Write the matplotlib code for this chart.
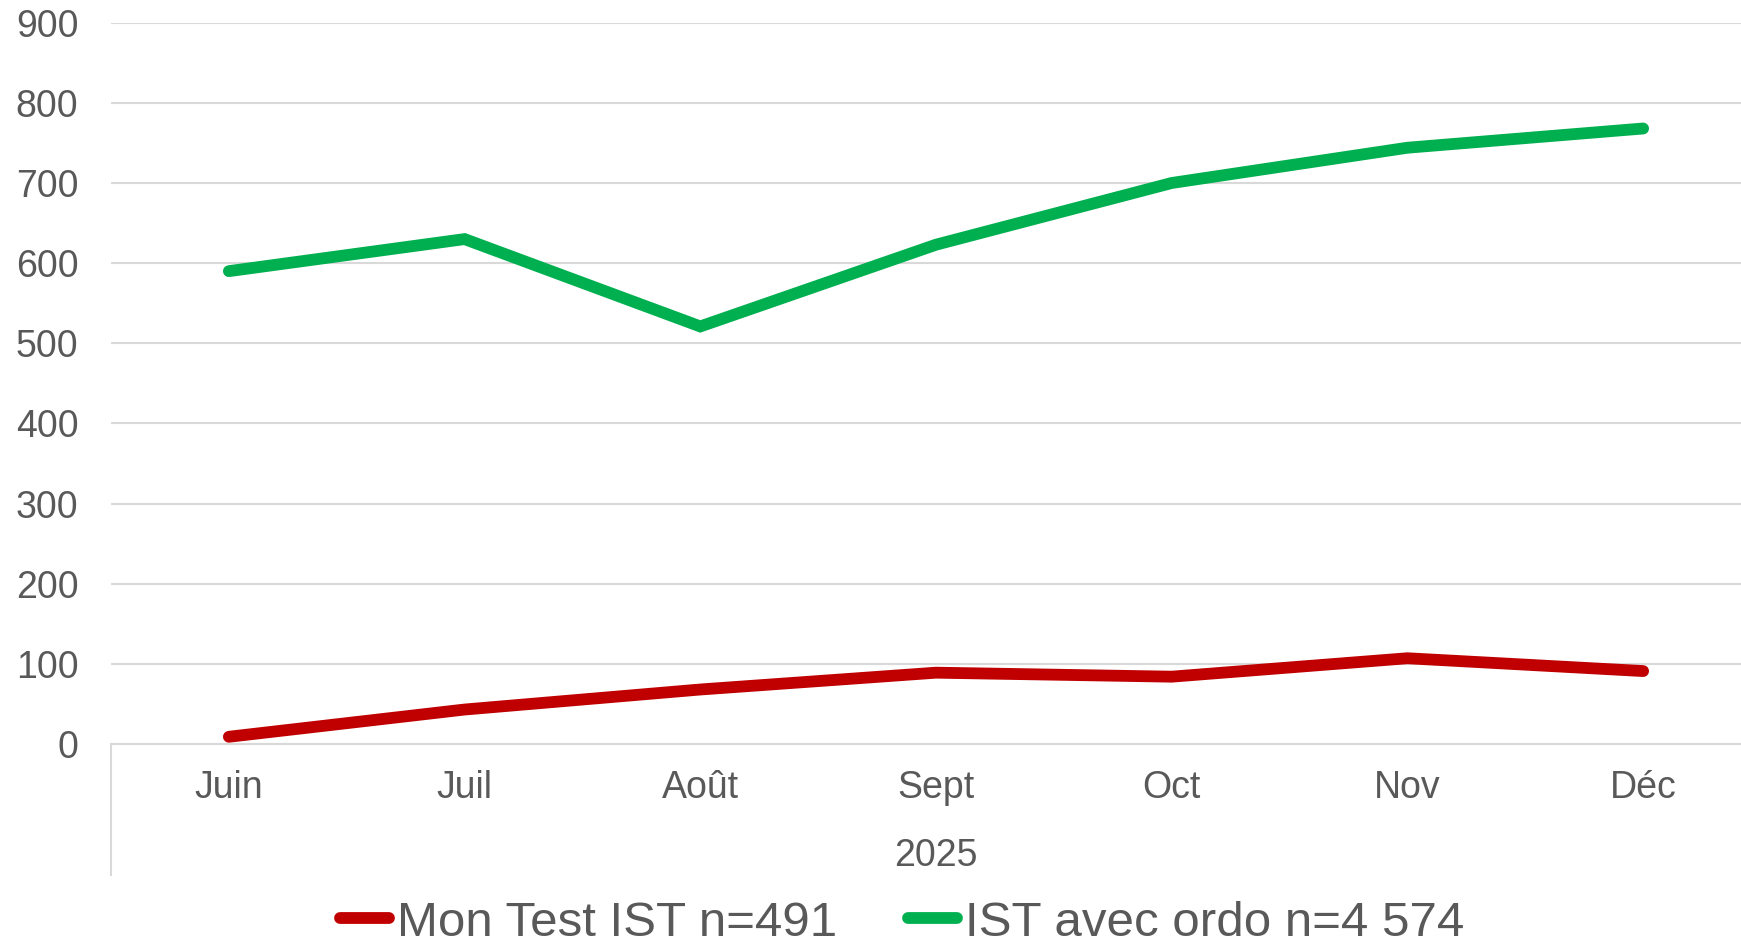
import matplotlib
matplotlib.use("Agg")
import matplotlib.pyplot as plt

months = ["Juin", "Juil", "Août", "Sept", "Oct", "Nov", "Déc"]
year_label = "2025"
mon_test = [9, 43, 68, 89, 84, 107, 91]
ist_ordo = [590, 630, 521, 623, 700, 744, 768]
series_names = ["Mon Test IST n=491", "IST avec ordo n=4 574"]
y_ticks = [0, 100, 200, 300, 400, 500, 600, 700, 800, 900]

plt.rcParams['font.family'] = ['Liberation Sans', 'DejaVu Sans']
TXT = '#595959'
GRID = '#d9d9d9'

W, H = 1741, 944
fig = plt.figure(figsize=(W / 100, H / 100), dpi=100)
left = 111 / W
bottom = 1 - 744 / H
top = 1 - 22.7 / H
width = 1650 / W
ax = fig.add_axes([left, bottom, width, top - bottom])

x = list(range(len(months)))
l1, = ax.plot(x, mon_test, color='#C00000', lw=8.5, solid_capstyle='round', solid_joinstyle='miter', zorder=3)
l2, = ax.plot(x, ist_ordo, color='#00B050', lw=8.5, solid_capstyle='round', solid_joinstyle='miter', zorder=3)

ax.set_xlim(-0.5, len(months) - 0.5)
ax.set_ylim(0, 900)
ax.set_yticks(y_ticks)
ax.set_yticklabels([str(v) for v in y_ticks])
ax.set_xticks(x)
ax.set_xticklabels(months)
ax.tick_params(axis='both', length=0, labelsize=27, labelcolor=TXT)
ax.tick_params(axis='y', pad=23.5)
ax.tick_params(axis='x', pad=19)

ax.grid(axis='y', color=GRID, lw=1.5, zorder=0)
ax.set_axisbelow(True)
for s in ['top', 'right', 'left']:
    ax.spines[s].set_visible(False)
ax.spines['bottom'].set_color(GRID)
ax.spines['bottom'].set_linewidth(1.5)

axh = 744 - 22.7
ax.axvline(-0.5, ymin=-(875 - 744) / axh, ymax=0, color=GRID, lw=1.5, clip_on=False)

ax.text(3, -(866 - 744) / axh, year_label, transform=ax.get_xaxis_transform(),
        ha='center', va='baseline', fontsize=27, color=TXT)

leg = fig.legend([l1, l2], series_names, loc='center', bbox_to_anchor=(902 / W, 1 - 923 / H),
                 ncol=2, frameon=False, fontsize=35.5, handlelength=1.0, handletextpad=0.15,
                 columnspacing=1.45, labelcolor=TXT, borderpad=0, borderaxespad=0)

fig.savefig('out.png', dpi=100)
